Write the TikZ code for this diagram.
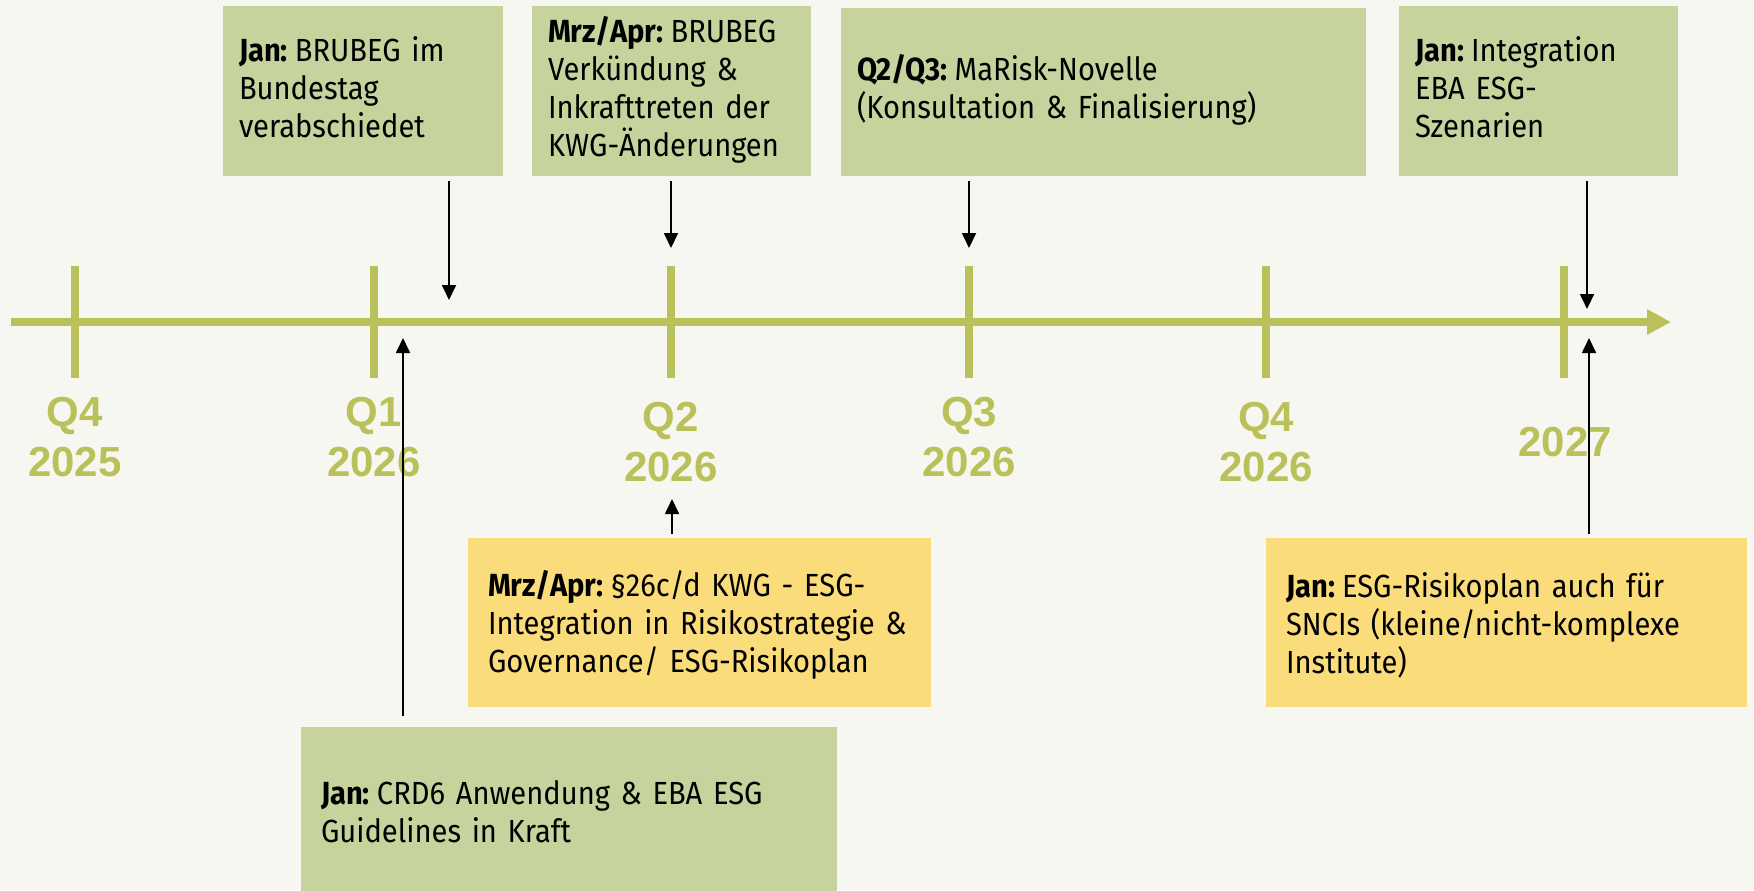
\documentclass[tikz,border=0pt]{standalone}
\usepackage{fontspec}
\setmainfont{Fira Sans}[FakeStretch=0.91]
\newfontfamily\labelfont{Liberation Sans}
\usetikzlibrary{arrows.meta}
\definecolor{bgc}{RGB}{246,247,240}
\definecolor{tlc}{RGB}{187,193,90}
\definecolor{boxg}{RGB}{198,211,156}
\definecolor{boxy}{RGB}{250,220,122}
\newcommand{\when}[1]{\textbf{#1}\hspace{3.5pt}\ignorespaces}
\tikzset{
  boxshape/.style={rectangle, inner sep=0pt},
  gbox/.style={boxshape, fill=boxg},
  ybox/.style={boxshape, fill=boxy},
  evtext/.style={inner sep=0pt, align=left, anchor=center,
    font=\fontsize{16}{19}\selectfont, text=black},
  qlabel/.style={align=center, text=tlc, inner sep=0pt,
    font=\labelfont\bfseries\fontsize{21}{25}\selectfont},
  tickline/.style={draw=tlc, line width=4pt},
  evarrow/.style={draw=black, line width=0.9pt, -{Triangle[width=7pt,length=7.5pt]}}
}
\begin{document}
\begin{tikzpicture}[x=0.5pt,y=-0.5pt]
\useasboundingbox (0,0) rectangle (1754,890);
\fill[bgc] (0,0) rectangle (1754,890);

% timeline
\draw[tlc, line width=4pt, -{Triangle[width=12pt,length=12pt]}] (11,322) -- (1671,322);
\foreach \x in {75,374,671,969,1266,1564}{
  \draw[tickline] (\x,266) -- (\x,378);
}
\node[qlabel] (l1) at (75,437) {Q4\\2025};
\node[qlabel] (l2) at (374,437) {Q1\\2026};
\node[qlabel] (l3) at (671,442) {Q2\\2026};
\node[qlabel] (l4) at (969,437) {Q3\\2026};
\node[qlabel] (l5) at (1266,442) {Q4\\2026};
\node[qlabel] (l6) at (1565,442) {2027};

% top boxes
\node[gbox, minimum width=140pt, minimum height=85pt] (b1) at (363,91) {};
\node[evtext, text width=124pt, yshift=1.8pt] (b1t) at (b1.center)
  {\when{Jan:} BRUBEG im\\Bundestag\\verabschiedet};
\node[gbox, minimum width=139.5pt, minimum height=85pt] (b2) at (671.5,91) {};
\node[evtext, text width=123.5pt, yshift=0.8pt] (b2t) at (b2.center)
  {\when{Mrz/Apr:} BRUBEG\\Verkündung \&\\Inkrafttreten der\\KWG-Änderungen};
\node[gbox, minimum width=262.5pt, minimum height=84pt] (b3) at (1103.5,92) {};
\node[evtext, text width=246.5pt, yshift=0.9pt] (b3t) at (b3.center)
  {\when{Q2/Q3:} MaRisk-Novelle\\(Konsultation \& Finalisierung)};
\node[gbox, minimum width=139.5pt, minimum height=85pt] (b4) at (1538.5,91) {};
\node[evtext, text width=123.5pt, yshift=1.8pt] (b4t) at (b4.center)
  {\when{Jan:} Integration\\EBA ESG-\\Szenarien};

% bottom boxes
\node[ybox, minimum width=231.5pt, minimum height=84.5pt] (b5) at (699.5,622.5) {};
\node[evtext, text width=211.5pt, yshift=-1.2pt] (b5t) at (b5.center)
  {\when{Mrz/Apr:} §26c/d KWG - ESG-\\Integration in Risikostrategie \&\\Governance/ ESG-Risikoplan};
\node[ybox, minimum width=240.5pt, minimum height=84.5pt] (b6) at (1506.5,622.5) {};
\node[evtext, text width=220.5pt, yshift=-1.2pt] (b6t) at (b6.center)
  {\when{Jan:} ESG-Risikoplan auch für\\SNCIs (kleine/nicht-komplexe\\Institute)};
\node[gbox, minimum width=268pt, minimum height=85pt] (b7) at (569,812) {};
\node[evtext, text width=248pt] (b7t) at (b7.center)
  {\when{Jan:} CRD6 Anwendung \& EBA ESG\\Guidelines in Kraft};

% arrow targets
\coordinate (t1) at (449,300);
\coordinate (t2) at (671,248);
\coordinate (t3) at (969,248);
\coordinate (t4) at (1587,309);
\coordinate (t5) at (672,499);
\coordinate (t6) at (1589,338);
\coordinate (t7) at (403,338);

\draw[evarrow, shorten <=2.5pt] (b1.south -| t1) -- (t1);
\draw[evarrow, shorten <=2.5pt] (b2.south -| t2) -- (t2);
\draw[evarrow, shorten <=2.5pt] (b3.south -| t3) -- (t3);
\draw[evarrow, shorten <=2.5pt] (b4.south -| t4) -- (t4);
\draw[evarrow, shorten <=2pt] (b5.north -| t5) -- (t5);
\draw[evarrow, shorten <=2pt] (b6.north -| t6) -- (t6);
\draw[evarrow, shorten <=5.5pt] (b7.north -| t7) -- (t7);
\end{tikzpicture}
\end{document}
